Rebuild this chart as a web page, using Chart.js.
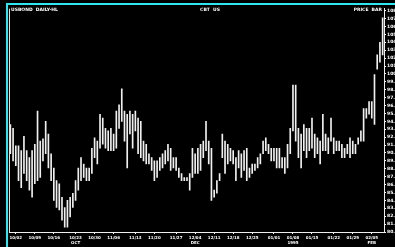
<!DOCTYPE html>
<html>
<head>
<meta charset="utf-8">
<script src="https://cdn.jsdelivr.net/npm/chart.js@4/dist/chart.umd.min.js"></script>
<style>
    html, body { margin: 0; padding: 0; background: #000; overflow: hidden; }
    #frame {
        position: absolute; left: 6px; top: 3px;
        width: 387px; height: 242px;
        border-left: 2px solid #2ee6ef;
        border-top: 2px solid #2ee6ef;
    }
    #frame canvas { display: block; }
</style>
</head>
<body>
<div id="frame"><canvas id="chart" width="387" height="242"></canvas></div>
<script>
// =========================================================
// DATA (daily highs / lows)
// =========================================================
const highs = [
    93.6, 93.1, 90.9, 90.9, 90.3, 92.1, 90.3, 89.4, 90.3, 91.1,
    95.3, 91.5, 91.8, 94.0, 92.4, 89.9, 88.1, 86.5, 86.1, 84.4,
    83.1, 84.0, 84.4, 84.9, 86.5, 88.1, 89.4, 88.6, 88.1, 88.1,
    90.6, 91.9, 91.5, 94.9, 94.4, 93.1, 92.8, 93.1, 92.4, 95.3,
    96.1, 98.1, 95.3, 94.9, 95.3, 94.9, 95.3, 94.4, 94.0, 91.5,
    91.1, 89.9, 89.4, 89.0, 89.0, 89.4, 89.9, 90.3, 91.1, 90.6,
    89.4, 89.4, 88.1, 87.4, 86.9, 86.9, 87.4, 90.6, 89.9, 90.6,
    91.1, 91.5, 94.0, 91.5, 90.6, 85.3, 86.5, 87.4, 92.4, 91.5,
    91.1, 90.6, 90.3, 89.4, 90.3, 89.9, 90.3, 90.6, 88.1, 88.6,
    88.6, 89.4, 89.9, 91.5, 91.9, 91.1, 90.6, 90.6, 90.6, 90.6,
    89.4, 89.4, 91.1, 93.1, 98.6, 98.6, 93.1, 92.4, 93.6, 93.1,
    93.1, 94.4, 92.4, 91.9, 91.5, 94.9, 92.4, 91.9, 94.4, 91.9,
    91.5, 91.5, 91.1, 90.6, 91.1, 91.9, 91.5, 91.1, 91.9, 92.8,
    95.6, 95.6, 96.5, 96.5, 99.9, 102.4, 104.0, 107.1
];
const lows = [
    89.9, 89.0, 88.4, 86.5, 85.6, 87.4, 86.5, 85.3, 84.4, 86.1,
    86.5, 86.9, 89.0, 89.9, 88.1, 86.5, 84.0, 83.1, 82.8, 81.5,
    80.6, 80.6, 81.9, 83.1, 84.0, 85.3, 86.5, 86.9, 86.5, 86.5,
    87.4, 89.4, 88.6, 90.6, 91.1, 90.6, 90.3, 90.3, 90.3, 90.6,
    93.1, 94.0, 91.5, 88.1, 92.4, 90.6, 92.8, 89.9, 89.4, 89.0,
    88.6, 88.6, 87.8, 86.5, 86.9, 87.8, 88.1, 88.6, 89.0, 87.8,
    88.1, 87.8, 86.9, 86.5, 86.5, 86.5, 85.3, 86.9, 87.4, 87.4,
    87.8, 89.4, 90.3, 88.6, 84.0, 84.4, 84.9, 86.5, 89.4, 87.4,
    88.6, 89.0, 88.6, 86.5, 88.1, 86.9, 87.8, 86.5, 86.9, 87.4,
    87.8, 88.1, 88.6, 89.9, 90.3, 89.9, 89.0, 89.0, 88.1, 88.1,
    88.1, 87.4, 88.1, 89.9, 92.8, 91.5, 89.4, 88.1, 90.3, 89.4,
    90.3, 90.6, 89.4, 89.9, 88.6, 90.3, 90.3, 89.9, 91.5, 89.9,
    90.3, 90.3, 89.4, 89.4, 89.9, 89.4, 89.9, 89.9, 91.1, 91.5,
    91.5, 94.4, 94.9, 94.4, 93.6, 100.6, 101.5, 102.4
];

// bottom axis: which bars carry a tick, and the texts under them
const tickIndex = [2, 9, 16, 24, 31, 38, 46, 53, 61, 68, 75, 82, 89, 97, 104, 111, 119, 126, 133];
const tickLabels = ['10/02', '10/09', '10/16', '10/23', '10/30', '11/06', '11/13', '11/20', '11/27', '12/04',
                    '12/11', '12/18', '12/25', '01/01', '01/08', '01/15', '01/22', '01/29', '02/05'];
const tickLabels2 = ['', '', '', 'OCT', '', '', '', '', '', 'DEC',
                     '', '', '', '', '1995', '', '', '', 'FEB'];

// right axis
const priceMin = 80;
const priceMax = 108.25;

const headerLeft = 'USBOND  DAILY-HL';
const headerCenter = 'CBT  US';
const headerRight = 'PRICE  BAR';

// =========================================================
// CHART
// =========================================================
const categories = highs.map(function (_, i) { return i; });
const ranges = highs.map(function (h, i) { return [lows[i], h]; });

const framePlugin = {
    id: 'frameText',
    afterDraw: function (chart) {
        const ctx = chart.ctx;
        const area = chart.chartArea;
        ctx.save();
        // left edge of the plot
        ctx.strokeStyle = '#dddddd';
        ctx.lineWidth = 1;
        ctx.beginPath();
        ctx.moveTo(area.left + 0.5, area.top);
        ctx.lineTo(area.left + 0.5, area.bottom);
        ctx.stroke();
        // header texts
        ctx.fillStyle = '#ffffff';
        ctx.font = 'bold 4.5px "DejaVu Sans"';
        ctx.textBaseline = 'top';
        ctx.textAlign = 'left';
        ctx.fillText(headerLeft, area.left + 2, 3);
        ctx.textAlign = 'center';
        ctx.fillText(headerCenter, 202, 3);
        ctx.textAlign = 'right';
        ctx.fillText(headerRight, area.right - 2, 3);
        ctx.restore();
    }
};

new Chart(document.getElementById('chart'), {
    type: 'bar',
    data: {
        labels: categories,
        datasets: [{
            data: ranges,
            backgroundColor: '#f0f0f0',
            borderWidth: 0,
            barThickness: 1,
            yAxisID: 'y'
        }]
    },
    plugins: [framePlugin],
    options: {
        responsive: false,
        animation: false,
        layout: { padding: { left: 1, top: 1, right: 0, bottom: 0 } },
        plugins: {
            legend: { display: false },
            tooltip: { enabled: false }
        },
        scales: {
            x: {
                type: 'category',
                offset: true,
                grid: { drawOnChartArea: false, offset: false, color: '#ffffff', tickLength: 2 },
                border: { color: '#eeeeee', width: 1 },
                afterBuildTicks: function (axis) {
                    axis.ticks = axis.ticks.filter(function (t) { return tickIndex.includes(t.value); });
                },
                afterFit: function (axis) { axis.height = 15; },
                ticks: {
                    autoSkip: false,
                    maxRotation: 0,
                    padding: 1,
                    color: '#ffffff',
                    font: { family: 'DejaVu Sans', size: 4, weight: 'bold', lineHeight: 1.4 },
                    callback: function (value) {
                        const k = tickIndex.indexOf(value);
                        if (k < 0) return '';
                        return tickLabels2[k] ? [tickLabels[k], tickLabels2[k]] : tickLabels[k];
                    }
                }
            },
            y: {
                position: 'right',
                min: priceMin,
                max: priceMax,
                grid: { drawOnChartArea: false, color: '#ffffff', tickLength: 2 },
                border: { color: '#eeeeee', width: 1 },
                afterFit: function (axis) { axis.width = 11; },
                ticks: {
                    stepSize: 1,
                    autoSkip: false,
                    includeBounds: false,
                    padding: 1,
                    color: '#ffffff',
                    font: { family: 'DejaVu Sans', size: 4.5, weight: 'bold' },
                    callback: function (v) { return v.toFixed(2); }
                }
            }
        }
    }
});
</script>
</body>
</html>
